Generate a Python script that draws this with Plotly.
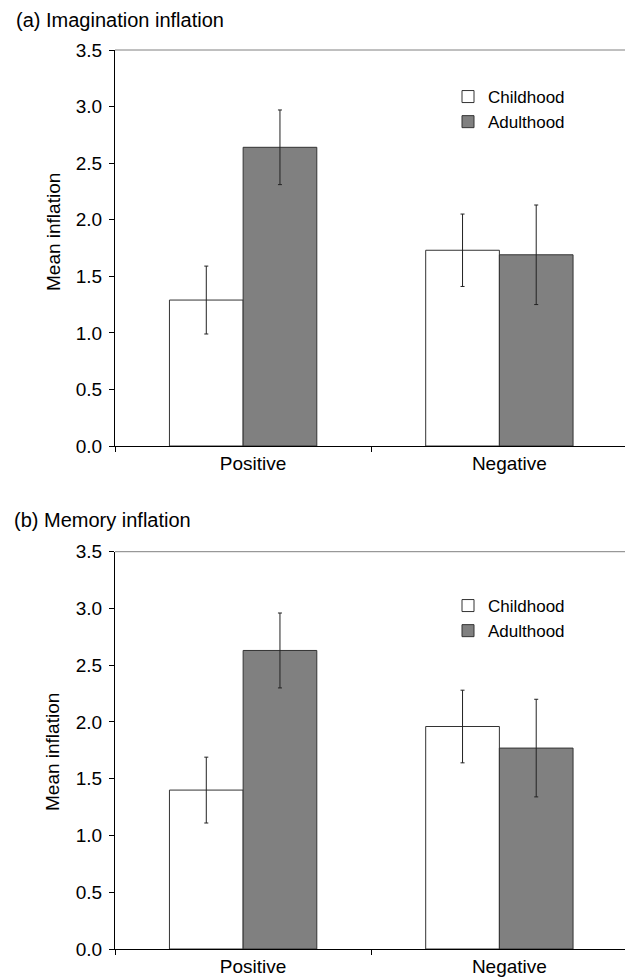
import plotly.graph_objects as go

categories = ["Positive", "Negative"]
series_names = ["Childhood", "Adulthood"]

imag_child = [1.29, 1.73]
imag_child_err = [0.30, 0.32]
imag_adult = [2.64, 1.69]
imag_adult_err = [0.33, 0.44]

mem_child = [1.40, 1.96]
mem_child_err = [0.29, 0.32]
mem_adult = [2.63, 1.77]
mem_adult_err = [0.33, 0.43]

panel_titles = ["(a) Imagination inflation", "(b) Memory inflation"]
y_title = "Mean inflation"

OFF = 8  # page offset of the plot div inside the browser window
W, H = 633 - OFF, 977 - OFF
FONT = "Arial, 'Liberation Sans', sans-serif"
fills = ["#ffffff", "#808080"]


def px_x(p):
    return (p - OFF) / W


def px_y(p):
    return 1 - (p - OFF) / H


fig = go.Figure()

panels = [
    (imag_child, imag_child_err, imag_adult, imag_adult_err, "x", "y", "legend"),
    (mem_child, mem_child_err, mem_adult, mem_adult_err, "x2", "y2", "legend2"),
]
for pi, (c, ce, a, ae, xa, ya, lg) in enumerate(panels):
    for si, (vals, errs) in enumerate([(c, ce), (a, ae)]):
        fig.add_trace(go.Bar(
            x=categories, y=vals, name=series_names[si],
            xaxis=xa, yaxis=ya, legend=lg,
            marker=dict(color=fills[si], line=dict(color="#333333", width=1)),
            error_y=dict(type="data", array=errs, color="#222222", thickness=1, width=2),
        ))

x_dom = [px_x(115), px_x(627.5)]
y_doms = [[px_y(446), px_y(50)], [px_y(949), px_y(551.7)]]

axis_common_y = dict(
    range=[0, 3.5], dtick=0.5, tickformat=".1f", ticks="outside", ticklen=5,
    tickcolor="black", showline=True, linecolor="black", linewidth=1.3,
    showgrid=False, zeroline=False, automargin=False, ticklabelstandoff=3,
    tickfont=dict(size=19, color="black", family=FONT),
)
axis_common_x = dict(
    type="category", ticks="outside", ticklen=5, tickson="boundaries",
    tickcolor="black", showline=True, linecolor="black", linewidth=1.3,
    showgrid=False, zeroline=False, automargin=False, ticklabelshift=10,
    tickfont=dict(size=19, color="black", family=FONT),
)

layout = dict(
    width=W, height=H, margin=dict(l=0, r=0, t=0, b=0, autoexpand=False),
    paper_bgcolor="white", plot_bgcolor="white",
    barmode="group", bargap=0.425, bargroupgap=0,
    font=dict(family=FONT, color="black", size=18),
    showlegend=True,
    xaxis=dict(domain=x_dom, anchor="y", **axis_common_x),
    yaxis=dict(domain=y_doms[0], anchor="x", **axis_common_y),
    xaxis2=dict(domain=x_dom, anchor="y2", **axis_common_x),
    yaxis2=dict(domain=y_doms[1], anchor="x2", **axis_common_y),
    legend=dict(x=px_x(448), y=px_y(79), xanchor="left", yanchor="top",
                bgcolor="rgba(0,0,0,0)", font=dict(size=17, color="black"),
                tracegroupgap=0, traceorder="normal"),
    legend2=dict(x=px_x(448), y=px_y(588), xanchor="left", yanchor="top",
                 bgcolor="rgba(0,0,0,0)", font=dict(size=17, color="black"),
                 tracegroupgap=0, traceorder="normal"),
)
fig.update_layout(**layout)

shapes = []
for xr, yr in [("x domain", "y domain"), ("x2 domain", "y2 domain")]:
    shapes.append(dict(type="line", xref=xr, yref=yr, x0=0, x1=1, y0=1, y1=1,
                       line=dict(color="#808080", width=1)))
    shapes.append(dict(type="line", xref=xr, yref=yr, x0=1, x1=1, y0=0, y1=1,
                       line=dict(color="#808080", width=1)))
fig.update_layout(shapes=shapes)

annotations = [
    dict(text=panel_titles[0], x=px_x(14), y=px_y(20), xref="paper", yref="paper",
         xanchor="left", yanchor="middle", showarrow=False, font=dict(size=20)),
    dict(text=panel_titles[1], x=px_x(12), y=px_y(520), xref="paper", yref="paper",
         xanchor="left", yanchor="middle", showarrow=False, font=dict(size=20)),
    dict(text=y_title, x=px_x(54), y=px_y(232), xref="paper", yref="paper",
         xanchor="center", yanchor="middle", textangle=-90, showarrow=False,
         font=dict(size=19)),
    dict(text=y_title, x=px_x(52), y=px_y(752), xref="paper", yref="paper",
         xanchor="center", yanchor="middle", textangle=-90, showarrow=False,
         font=dict(size=19)),
]
fig.update_layout(annotations=annotations)

fig.write_html("out.html")
